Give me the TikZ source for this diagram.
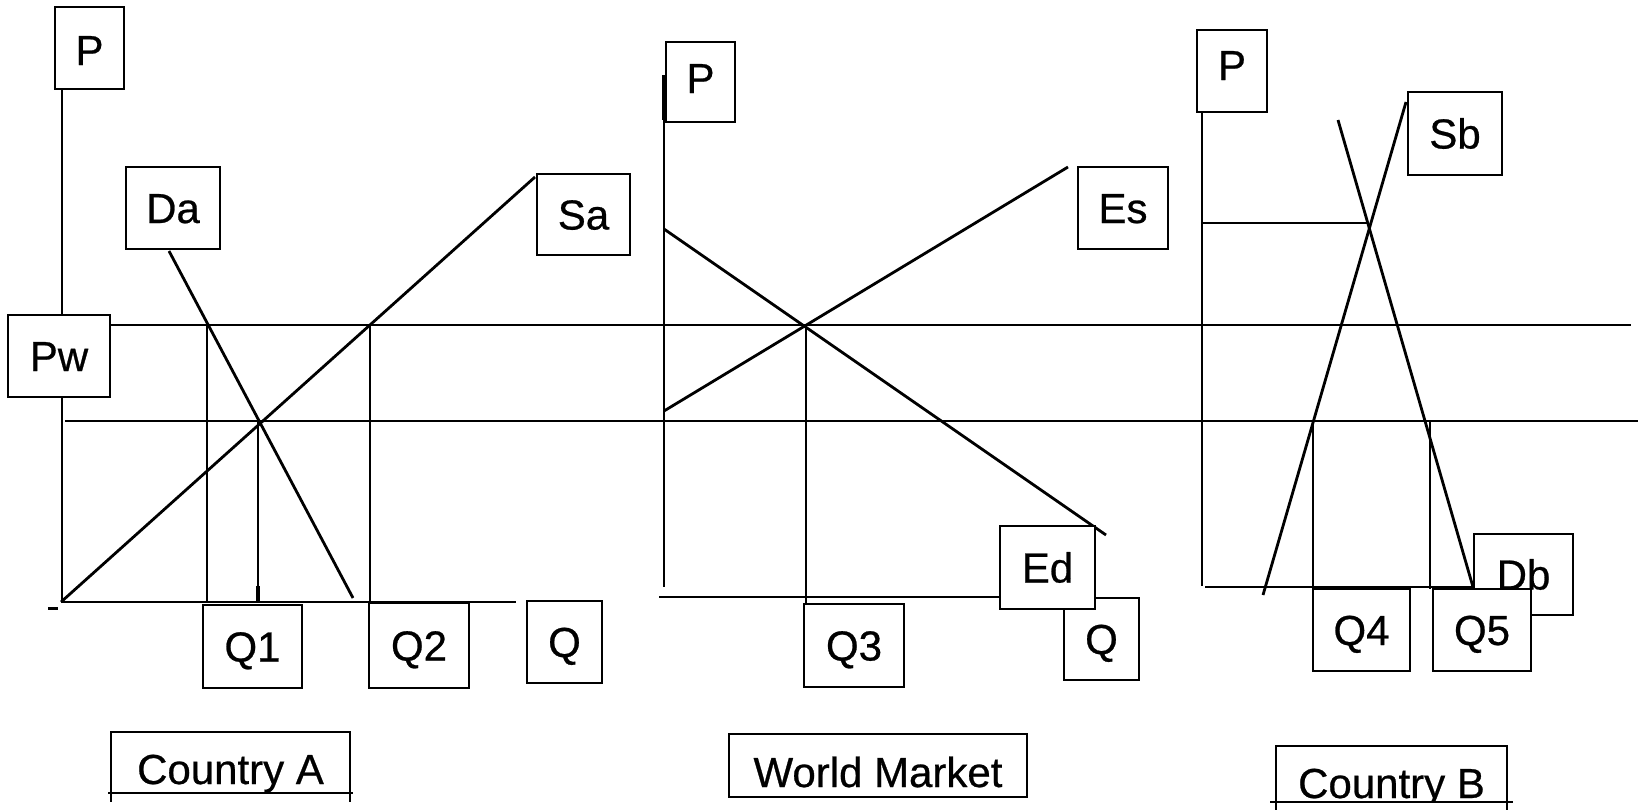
\documentclass[tikz,border=0pt]{standalone}
\usepackage{fontspec}
\setmainfont{Liberation Sans}
\newfontfamily\labelfont{Liberation Sans}[FakeBold=0.6]
% labelled box given by its two corners: name, x1, y1, x2, y2, text, options
\newcommand\lbox[7]{%
  \pgfmathsetmacro\lbxc{(#2+#4)/2}%
  \pgfmathsetmacro\lbyc{(#3+#5)/2}%
  \pgfmathsetmacro\lbw{#4-#2}%
  \pgfmathsetmacro\lbh{#5-#3}%
  \node[lbl, minimum width=\lbw pt, minimum height=\lbh pt, #7] (#1) at (\lbxc,\lbyc) {#6};%
}
\begin{document}
\begin{tikzpicture}[x=1pt,y=-1pt,
  curve/.style={line width=2.8pt},
  lbl/.style={draw, fill=white, line width=2.6pt, inner sep=0pt,
    font=\labelfont\fontsize{42}{50}\selectfont, text height=30pt, text depth=0pt},
]
\useasboundingbox (0,0) rectangle (1641,809);
\fill[white] (0,0) rectangle (1641,809);

% ---------- Country A ----------
\draw[curve] (62,89) -- (62,602);          % price axis
\draw[curve] (61,602) -- (516,602);        % quantity axis
\draw[curve] (169,251) -- (353,598);       % demand Da
\draw[curve] (61,602) -- (535,177);        % supply Sa
\draw[curve] (207,325) -- (207,602);       % Q1
\draw[curve] (370,325) -- (370,602);       % Q2
\draw[curve] (258,421) -- (258,602);       % autarky quantity
\draw[line width=4pt] (258,586) -- (258,602);
\draw[line width=3pt] (48,608) -- (58,608);

% ---------- price levels across all panels ----------
\draw[curve] (110,325) -- (1631,325);      % world price Pw
\draw[curve] (65,421) -- (1638,421);

% ---------- World market ----------
\draw[curve] (664,75) -- (664,587);        % price axis
\draw[line width=4.5pt] (664,75) -- (664,120);
\draw[curve] (659,597) -- (1064,597);      % quantity axis
\draw[curve] (664,229) -- (1106,535);      % export demand Ed
\draw[curve] (664,411) -- (1068,167);      % export supply Es
\draw[curve] (806,325) -- (806,604);       % Q3

% ---------- Country B ----------
\draw[curve] (1202,112) -- (1202,586);     % price axis
\draw[curve] (1205,587) -- (1474,587);     % quantity axis
\draw[curve] (1202,223) -- (1369,223);     % autarky price
\draw[curve] (1406,102) -- (1263,595);     % supply Sb
\draw[curve] (1338,120) -- (1473,587);     % demand Db
\draw[curve] (1313,421) -- (1313,589);     % Q4
\draw[curve] (1430,421) -- (1430,589);     % Q5

% ---------- labels ----------
\lbox{pA}{55}{7}{124}{89}{P}{text height=34pt}
\lbox{da}{126}{167}{220}{249}{Da}{}
\lbox{sa}{537}{174}{630}{255}{Sa}{}
\lbox{pw}{8}{315}{110}{397}{Pw}{}
\lbox{q1}{203}{605}{302}{688}{Q1}{}
\lbox{q2}{369}{603}{469}{688}{Q2}{}
\lbox{qA}{527}{601}{602}{683}{Q}{}
\lbox{ctyA}{111}{732}{350}{793}{Country A}{text height=43pt}
\draw[line width=2.6pt] (108,793) -- (353,793)
  (111,793) -- (111,802) (350,793) -- (350,802);

\lbox{pW}{666}{42}{735}{122}{P}{text height=22pt}
\lbox{es}{1078}{167}{1168}{249}{Es}{}
\lbox{q3}{804}{604}{904}{687}{Q3}{}
\lbox{qW}{1064}{598}{1139}{680}{Q}{}
\lbox{ed}{1000}{526}{1095}{609}{Ed}{}
\lbox{wm}{729}{734}{1027}{797}{World Market}{text height=43pt}

\lbox{pB}{1197}{30}{1267}{112}{P}{text height=18pt}
\lbox{sb}{1408}{92}{1502}{175}{Sb}{}
\lbox{q4}{1313}{589}{1410}{671}{Q4}{}
\lbox{db}{1474}{534}{1573}{615}{Db}{}
\lbox{q5}{1433}{589}{1531}{671}{Q5}{}
\begin{scope}
  \clip (1260,730) rectangle (1530,801);
  \lbox{ctyB}{1276}{746}{1507}{820}{Country B}{}
\end{scope}
\draw[line width=2.6pt] (1270,802) -- (1513,802)
  (1276,801) -- (1276,812) (1507,801) -- (1507,812);
\end{tikzpicture}
\end{document}
